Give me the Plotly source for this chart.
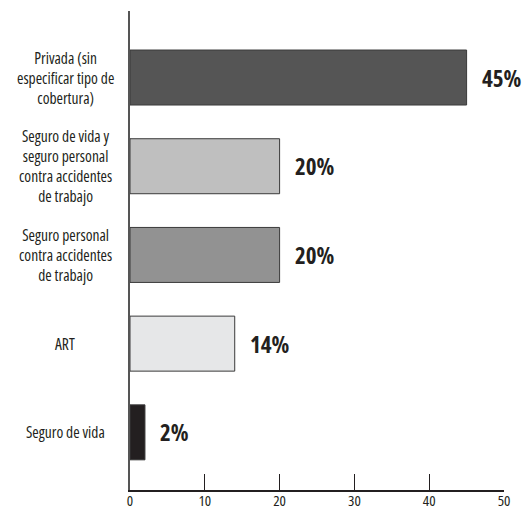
import plotly.graph_objects as go

categories = [
    "Seguro de vida",
    "ART",
    "Seguro personal<br>contra accidentes<br>de trabajo",
    "Seguro de vida y<br>seguro personal<br>contra accidentes<br>de trabajo",
    "Privada (sin<br>especificar tipo de<br>cobertura)",
]
values = [2, 14, 20, 20, 45]
value_labels = ["2%", "14%", "20%", "20%", "45%"]
colors = ["#231f20", "#e6e7e8", "#929292", "#bfbfbf", "#555555"]
x_ticks = [0, 10, 20, 30, 40, 50]

FONT = "Open Sans, Roboto, sans-serif"


def narrow(text, pct):
    return '<span style="font-stretch:%d%%">%s</span>' % (pct, text)


def narrow_lines(text, pct):
    return "<br>".join(narrow(t, pct) for t in text.split("<br>"))


ypos = list(range(len(categories)))

fig = go.Figure()
fig.add_trace(go.Bar(
    x=values, y=ypos, orientation="h",
    marker=dict(color=colors, line=dict(color="#3a3a3a", width=1)),
    width=0.62, hoverinfo="skip",
))

for i, (c, v, t) in enumerate(zip(categories, values, value_labels)):
    fig.add_annotation(x=0, y=i, xref="x", yref="y", text=narrow_lines(c, 86), showarrow=False,
                       xanchor="center", align="center", xshift=-65,
                       font=dict(family=FONT, size=15.5, color="#231f20"))
    fig.add_annotation(x=v, y=i, xref="x", yref="y", text="<b>%s</b>" % narrow(t, 80),
                       showarrow=False, xanchor="left", xshift=13,
                       font=dict(family=FONT, size=23, color="#231f20"))

fig.update_xaxes(range=[0, 50], tickvals=x_ticks, ticktext=[narrow(str(v), 85) for v in x_ticks],
                 ticks="inside", ticklen=16, automargin=False, ticklabelstandoff=-4,
                 tickwidth=1.2, tickcolor="#231f20", showgrid=False, zeroline=False,
                 showline=True, linecolor="#231f20", linewidth=1.5,
                 tickfont=dict(family=FONT, size=15, color="#231f20"))
fig.update_yaxes(range=[-0.65, 4.75], showticklabels=False, ticks="", showgrid=False,
                 zeroline=False, showline=True, linecolor="#555555", linewidth=2,
                 automargin=False)

fig.update_layout(
    width=529, height=511, plot_bgcolor="white", paper_bgcolor="white",
    margin=dict(l=130, r=25, t=11, b=21), showlegend=False,
)
fig.write_html("out.html")
